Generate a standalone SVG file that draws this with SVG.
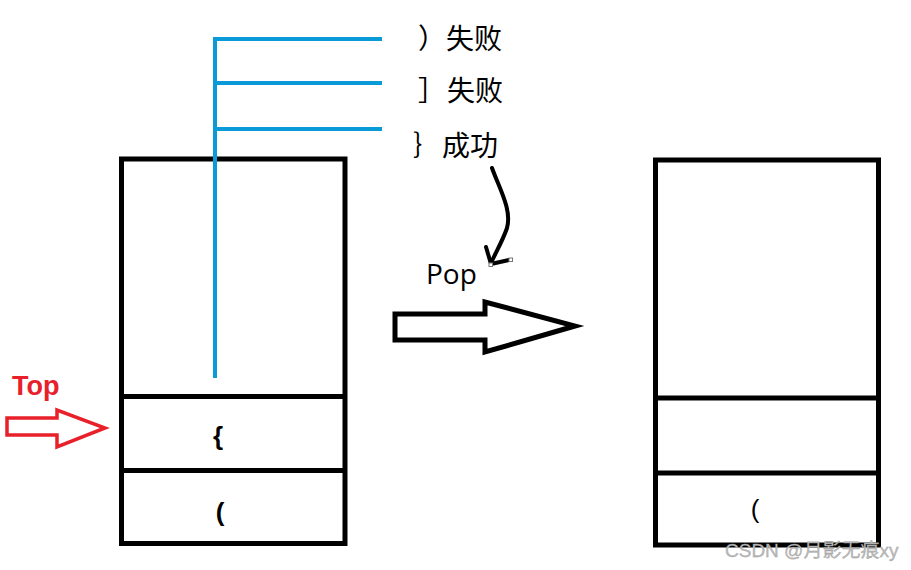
<svg xmlns="http://www.w3.org/2000/svg" width="911" height="570" viewBox="0 0 911 570">
<style>
.box{fill:none;stroke:#000;stroke-width:5}
.blue{stroke:#0A9AD8;stroke-width:4;fill:none}
.lbl{font-family:"Noto Sans CJK SC","Noto Sans",sans-serif;font-size:28px;fill:#000}
.ch{font-family:"Liberation Sans",sans-serif;font-size:26px;fill:#000;text-anchor:middle}
</style>
<rect width="911" height="570" fill="#fff"/>
<g id="stack-left">
<rect class="box" x="121.5" y="159" width="223.5" height="384.5"/>
<line class="box" x1="121.5" y1="396.5" x2="345" y2="396.5"/>
<line class="box" x1="121.5" y1="470.5" x2="345" y2="470.5"/>
<text class="ch" x="218" y="445" font-weight="bold">{</text>
<text class="ch" x="220" y="521" font-weight="bold">(</text>
</g>
<g id="stack-right">
<rect class="box" x="655.5" y="160" width="223" height="385"/>
<line class="box" x1="655.5" y1="398" x2="878.5" y2="398"/>
<line class="box" x1="655.5" y1="473" x2="878.5" y2="473"/>
<text class="ch" x="755" y="518">(</text>
</g>
<g id="scan-lines">
<path class="blue" d="M215 378 V38 M213 39 H382 M215 83 H382 M215 129 H382"/>
</g>
<g id="labels">
<text class="lbl" x="418" y="49">）</text><text class="lbl" x="446" y="49">失败</text>
<text class="lbl" x="418" y="101">］</text><text class="lbl" x="447" y="101">失败</text>
<text class="lbl" x="413" y="156">｝</text><text class="lbl" x="442" y="156">成功</text>
</g>
<g id="connectors">
<path d="M492 168 C500 190 512 210 507 228 C503 240 496 252 491 263" fill="none" stroke="#000" stroke-width="4" stroke-linecap="round"/>
<path d="M486 247 L491 264 L509 260" fill="none" stroke="#000" stroke-width="4" stroke-linecap="round" stroke-linejoin="round"/>
<rect x="489" y="263" width="3.5" height="3.5" fill="#fff" stroke="#777" stroke-width="1"/>
<rect x="509" y="258" width="3.5" height="3.5" fill="#fff" stroke="#777" stroke-width="1"/>
</g>
<g id="pop-arrow">
<text x="426" y="284" font-family="'Open Sans','Noto Sans',sans-serif" font-size="28" fill="#000">Pop</text>
<path d="M395 314 H485 V302 L575 326 L485 352 V340 H395 Z" fill="none" stroke="#000" stroke-width="5" stroke-linejoin="miter"/>
</g>
<g id="top-pointer">
<text x="12" y="395" font-family="'Liberation Sans',sans-serif" font-weight="bold" font-size="27" fill="#E8202A">Top</text>
<path d="M7 418 H57 V410 L105 428 L57 447 V435 H7 Z" fill="none" stroke="#E8202A" stroke-width="3.5"/>
</g>
<text x="725" y="557" font-family="'Liberation Sans','Noto Sans CJK SC',sans-serif" font-size="19" fill="#bbb" stroke="#999" stroke-width="0.3">CSDN @月影无痕xy</text>
</svg>
